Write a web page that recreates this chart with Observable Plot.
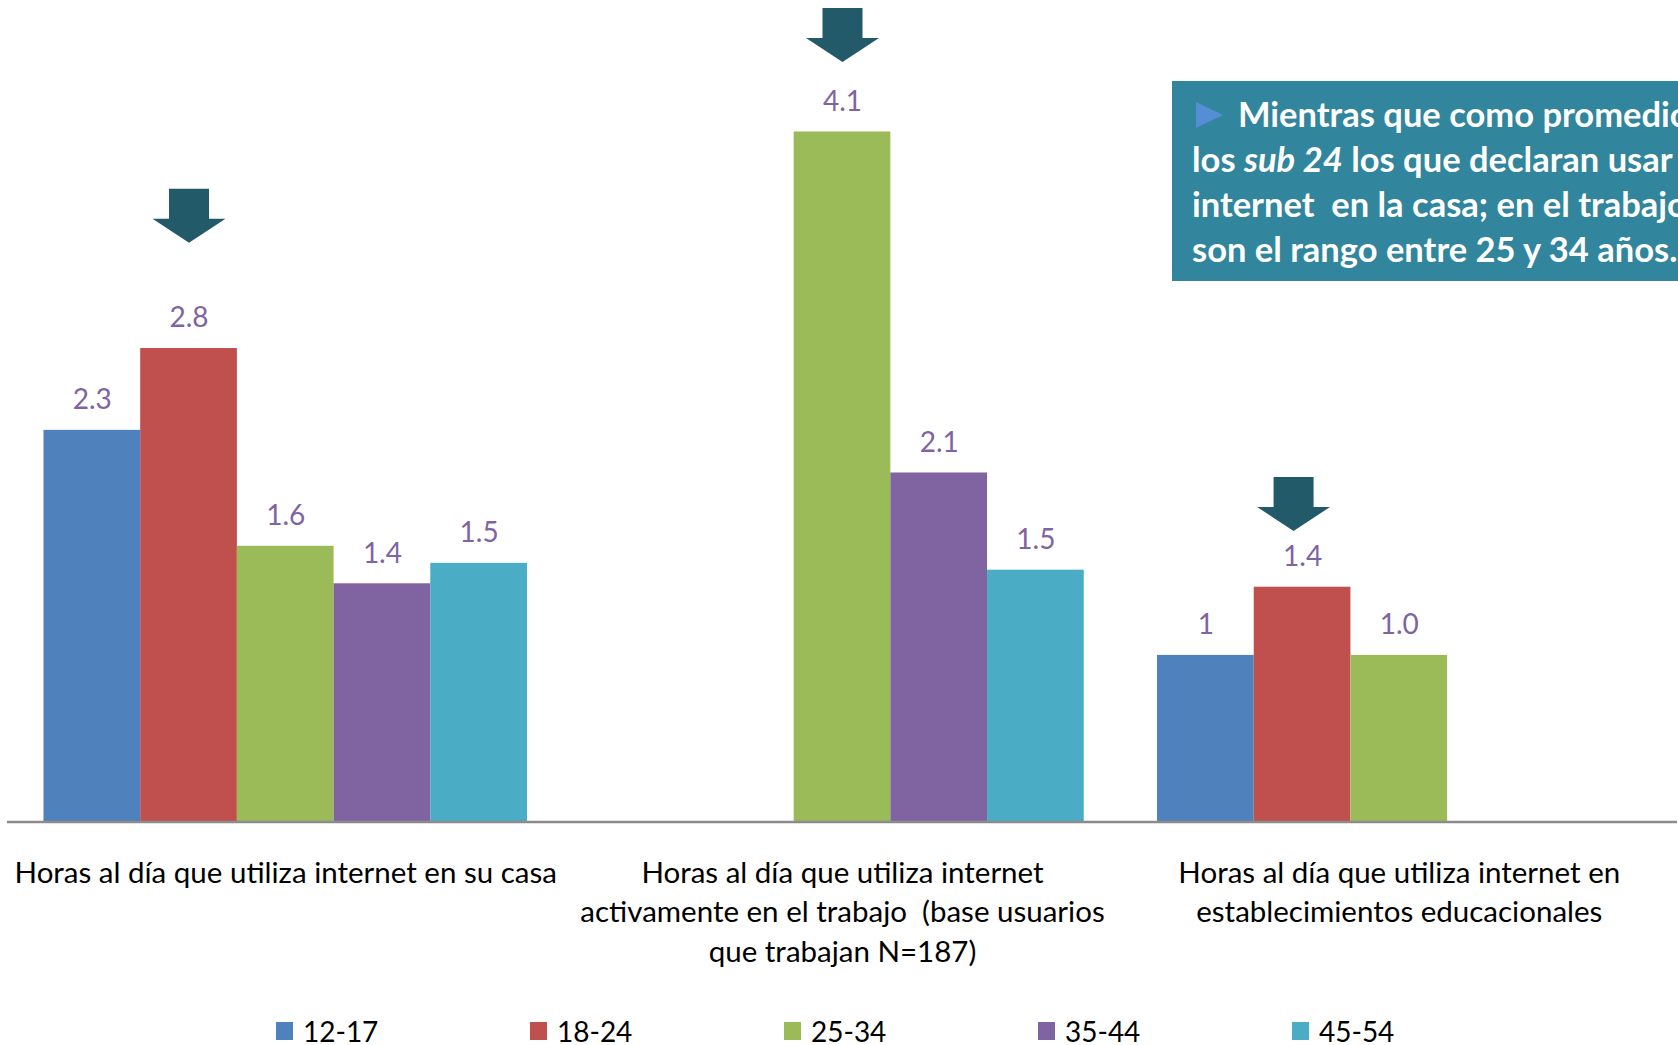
<!DOCTYPE html>
<html>
<head>
<meta charset="utf-8">
<script src="https://cdn.jsdelivr.net/npm/d3@7"></script>
<script src="https://cdn.jsdelivr.net/npm/@observablehq/plot@0.6"></script>
<style>
  html, body { margin: 0; padding: 0; overflow: hidden; background: #fff; width: 1678px; height: 1045px; }
  #wrap { position: relative; width: 1678px; height: 1045px; font-family: Lato, "Noto Sans", sans-serif; }
  #chart { position: absolute; left: 0; top: 0; }
  #legend { position: absolute; left: 276px; top: 1017px; display: flex; }
  .item { width: 254px; display: flex; align-items: center; font-size: 28px; line-height: 28px; color: #000; height: 28px; }
  .sw { width: 17px; height: 18px; margin-right: 10px; flex: none; }
  #note { position: absolute; left: 1172px; top: 81px; width: 560px; height: 200px; background: #31859c;
          color: #fff; font-weight: bold; font-size: 34.5px; line-height: 45px; white-space: nowrap;
          padding: 10px 0 0 20px; box-sizing: border-box; }
  .tri { display: inline-block; width: 0; height: 0; border-left: 27px solid #558ed5;
         border-top: 13px solid transparent; border-bottom: 13px solid transparent; margin: 0 15px 0 4px; vertical-align: -1px; }
</style>
</head>
<body>
<div id="wrap">
  <div id="chart"></div>
  <div id="legend"></div>
  <div id="note"></div>
</div>
<script>
// ---- data ----
const categories = [
  "Horas al día que utiliza internet en su casa",
  "Horas al día que utiliza internet\nactivamente en el trabajo  (base usuarios\nque trabajan N=187)",
  "Horas al día que utiliza internet en\nestablecimientos educacionales"
];
const ages = ["12-17", "18-24", "25-34", "35-44", "45-54"];
const colors = ["#4f81bd", "#c0504d", "#9bbb59", "#8064a2", "#4bacc6"];

// values per category (null = no bar)
const casaValues    = [2.30, 2.78, 1.62, 1.40, 1.52];
const trabajoValues = [null, null, 4.05, 2.05, 1.48];
const eduValues     = [0.98, 1.38, 0.98, null, null];
const casaLabels    = ["2.3", "2.8", "1.6", "1.4", "1.5"];
const trabajoLabels = [null, null, "4.1", "2.1", "1.5"];
const eduLabels     = ["1", "1.4", "1.0", null, null];

// highlight arrows: category index, age, tip value (in hours)
const arrowCats = [0, 1, 2];
const arrowAges = ["18-24", "25-34", "18-24"];
const arrowTips = [3.40, 4.46, 1.71];

const noteLines = [
  'Mientras que como promedio son',
  'los <i>sub 24</i> los que declaran usar más',
  'internet&nbsp; en la casa; en el trabajo',
  'son el rango entre 25 y 34 años.'
];

// ---- build table ----
const valueSets = [casaValues, trabajoValues, eduValues];
const labelSets = [casaLabels, trabajoLabels, eduLabels];
const rows = [];
categories.forEach((c, ci) => {
  ages.forEach((a, ai) => {
    const v = valueSets[ci][ai];
    if (v != null) rows.push({cat: c, age: a, value: v, label: labelSets[ci][ai]});
  });
});
const arrows = arrowCats.map((ci, i) => ({cat: categories[ci], age: arrowAges[i], tip: arrowTips[i], i}));

const arrowSymbol = {
  draw(ctx) {
    ctx.moveTo(-20, -54);
    ctx.lineTo(20, -54);
    ctx.lineTo(20, -24);
    ctx.lineTo(36.5, -24);
    ctx.lineTo(0, 0);
    ctx.lineTo(-36.5, -24);
    ctx.lineTo(-20, -24);
    ctx.closePath();
  }
};

const W = 1678, H = 1000;
const plot = Plot.plot({
  width: W,
  height: H,
  marginLeft: 7,
  marginRight: 1,
  marginTop: 54.75,
  marginBottom: H - 822,
  style: {fontFamily: "Lato, 'Noto Sans', sans-serif", background: "#fff"},
  fx: {domain: categories, paddingInner: 0.1316, paddingOuter: 0.0655, round: false, axis: null, label: null},
  x: {domain: ages, padding: 0, round: false, axis: null, label: null},
  y: {domain: [0, 4.5], axis: null, label: null},
  color: {domain: ages, range: colors},
  marks: [
    Plot.barY(rows, {fx: "cat", x: "age", y: "value", fill: "age"}),
    Plot.text(rows, {fx: "cat", x: "age", y: "value", text: "label", dy: -30, lineAnchor: "middle",
                     fill: "#8064a2", fontSize: 28}),
    Plot.dot(arrows.filter(d => d.i < 2), {fx: "cat", x: "age", y: "tip", symbol: arrowSymbol, r: 5, fill: "#235a69", stroke: null}),
    Plot.dot(arrows.filter(d => d.i === 2), {fx: "cat", x: "age", y: "tip", symbol: arrowSymbol, r: 5, dx: -9, fill: "#235a69", stroke: null}),
    Plot.text(categories, {fx: d => d, text: d => d, frameAnchor: "bottom", lineAnchor: "top", dy: 32,
                           fontSize: 29.5, lineHeight: 1.343, fill: "#000"})
  ]
});
document.getElementById("chart").appendChild(plot);

// continuous category-axis baseline at y = 0 across the whole frame
const y0 = plot.scale("y").apply(0);
d3.select(plot).append("line")
  .attr("x1", 7).attr("x2", W - 1)
  .attr("y1", y0).attr("y2", y0)
  .attr("stroke", "#8c8c8c").attr("stroke-width", 2.5);

// legend
const lg = document.getElementById("legend");
ages.forEach((a, i) => {
  const it = document.createElement("div");
  it.className = "item";
  const sw = document.createElement("span");
  sw.className = "sw";
  sw.style.background = colors[i];
  it.appendChild(sw);
  it.appendChild(document.createTextNode(a));
  lg.appendChild(it);
});

// note box
const note = document.getElementById("note");
note.innerHTML = noteLines.map((l, i) => (i === 0 ? '<span class="tri"></span>' : '') + l).join("<br>");
</script>
</body>
</html>
